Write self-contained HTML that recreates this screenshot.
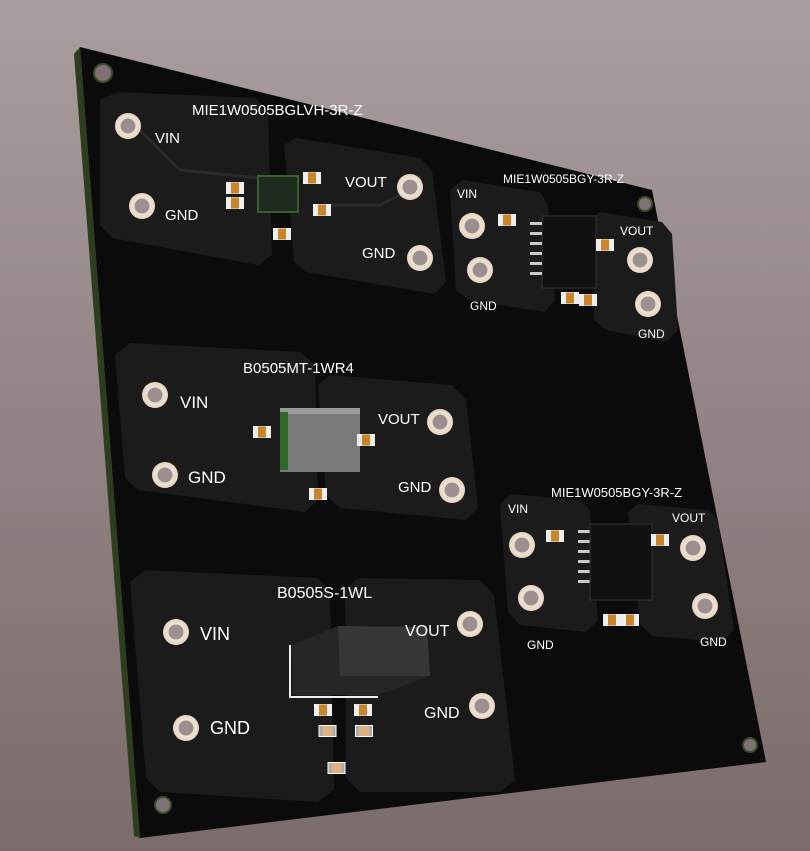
<!DOCTYPE html>
<html><head><meta charset="utf-8"><style>
html,body{margin:0;padding:0;width:810px;height:851px;overflow:hidden}
svg{display:block}
text{font-family:"Liberation Sans",sans-serif;fill:#fff}
</style></head><body>
<svg width="810" height="851" viewBox="0 0 810 851" xmlns="http://www.w3.org/2000/svg">
<defs>
<linearGradient id="bg" x1="0" y1="0" x2="0" y2="1">
<stop offset="0" stop-color="#a99d9e"/><stop offset="1" stop-color="#7b6b6b"/></linearGradient>
<radialGradient id="hole"><stop offset="0.55" stop-color="#9c8f90"/><stop offset="0.6" stop-color="#efe2d2"/><stop offset="1" stop-color="#e6d6c4"/></radialGradient>
<g id="h"><circle r="13" fill="url(#hole)"/></g>
<g id="cap"><rect x="-9" y="-6" width="18" height="12" fill="#d9b98a"/><rect x="-9" y="-6" width="5" height="12" fill="#eee"/><rect x="4" y="-6" width="5" height="12" fill="#eee"/><rect x="-4" y="-5" width="8" height="10" fill="#c8852a"/></g>
<g id="capb"><rect x="-18" y="-12" width="36" height="24" fill="#fff"/><rect x="-16" y="-10" width="32" height="20" fill="#aaa"/><rect x="-10" y="-10" width="20" height="20" fill="#ddb383"/></g>
</defs>
<rect width="810" height="851" fill="url(#bg)"/>
<polygon points="74,54 80,47 140,838 134,836" fill="#2c3e1e"/>
<polygon points="80,47 652,190 766,762 140,838" fill="#0b0b0b"/>
<polygon points="100,100 118,92 255,98 268,110 272,255 258,265 112,238 100,225" fill="#1b1b1b"/>
<polygon points="284,145 296,138 420,158 432,170 446,282 434,294 306,272 294,262" fill="#1b1b1b"/>
<polygon points="450,190 462,180 540,192 548,205 555,300 545,312 468,300 456,290" fill="#1b1b1b"/>
<polygon points="590,220 600,212 662,222 672,234 678,330 666,342 606,330 594,320" fill="#1b1b1b"/>
<polygon points="115,355 130,343 300,352 315,365 318,500 305,512 138,490 125,478" fill="#1b1b1b"/>
<polygon points="318,385 330,375 452,385 466,400 478,508 466,520 340,508 326,495" fill="#1b1b1b"/>
<polygon points="500,505 510,494 580,500 590,510 598,620 586,632 520,625 508,612" fill="#1b1b1b"/>
<polygon points="628,512 638,504 708,510 718,520 734,630 722,642 652,636 640,624" fill="#1b1b1b"/>
<polygon points="130,582 145,570 318,578 330,592 334,790 318,802 160,792 146,778" fill="#1b1b1b"/>
<polygon points="345,590 358,578 480,580 494,595 515,780 500,792 360,792 346,778" fill="#1b1b1b"/>
<polyline points="140,130 180,170 260,178" fill="none" stroke="#2a2a2a" stroke-width="3"/>
<polyline points="330,205 380,205 410,190" fill="none" stroke="#2a2a2a" stroke-width="3"/>
<use href="#h" x="128" y="126"/><use href="#h" x="142" y="206"/>
<use href="#h" x="410" y="187"/><use href="#h" x="420" y="258"/>
<use href="#h" x="472" y="226"/><use href="#h" x="480" y="270"/>
<use href="#h" x="640" y="260"/><use href="#h" x="648" y="304"/>
<use href="#h" x="155" y="395"/><use href="#h" x="165" y="475"/>
<use href="#h" x="440" y="422"/><use href="#h" x="452" y="490"/>
<use href="#h" x="522" y="545"/><use href="#h" x="531" y="598"/>
<use href="#h" x="693" y="548"/><use href="#h" x="705" y="606"/>
<use href="#h" x="176" y="632"/><use href="#h" x="186" y="728"/>
<use href="#h" x="470" y="624"/><use href="#h" x="482" y="706"/>
<circle cx="103" cy="73" r="9" fill="#7e7272" stroke="#3b4a2c" stroke-width="2"/>
<circle cx="645" cy="204" r="7" fill="#7e7272" stroke="#3b4a2c" stroke-width="2"/>
<circle cx="750" cy="745" r="7" fill="#7e7272" stroke="#3b4a2c" stroke-width="2"/>
<circle cx="163" cy="805" r="8" fill="#7e7272" stroke="#3b4a2c" stroke-width="2"/>
<rect x="258" y="176" width="40" height="36" fill="#1e2a1e" stroke="#3a6030" stroke-width="2"/>
<rect x="542" y="216" width="54" height="72" fill="#111" stroke="#333"/>
<g fill="#ccc"><rect x="530" y="222" width="12" height="3"/><rect x="530" y="232" width="12" height="3"/><rect x="530" y="242" width="12" height="3"/><rect x="530" y="252" width="12" height="3"/><rect x="530" y="262" width="12" height="3"/><rect x="530" y="272" width="12" height="3"/>
<rect x="578" y="530" width="12" height="3"/><rect x="578" y="540" width="12" height="3"/><rect x="578" y="550" width="12" height="3"/><rect x="578" y="560" width="12" height="3"/><rect x="578" y="570" width="12" height="3"/><rect x="578" y="580" width="12" height="3"/></g>
<rect x="590" y="524" width="62" height="76" fill="#111" stroke="#333"/>
<rect x="280" y="408" width="80" height="64" fill="#7a7a7a"/>
<rect x="280" y="408" width="80" height="6" fill="#9a9a9a"/>
<rect x="280" y="412" width="8" height="58" fill="#2f6a2a"/>
<polyline points="290,645 290,697 378,697" fill="none" stroke="#eee" stroke-width="2"/>
<polygon points="292,645 338,626 427,627 430,676 378,695 293,695" fill="#262626"/>
<polygon points="338,626 427,627 430,676 340,676" fill="#363636"/>
<use href="#cap" x="235" y="188"/><use href="#cap" x="235" y="203"/><use href="#cap" x="322" y="210"/><use href="#cap" x="282" y="234"/><use href="#cap" x="312" y="178"/>
<use href="#cap" x="507" y="220"/><use href="#cap" x="605" y="245"/><use href="#cap" x="570" y="298"/><use href="#cap" x="588" y="300"/>
<use href="#cap" x="262" y="432"/><use href="#cap" x="366" y="440"/><use href="#cap" x="318" y="494"/>
<use href="#cap" x="555" y="536"/><use href="#cap" x="660" y="540"/><use href="#cap" x="612" y="620"/><use href="#cap" x="630" y="620"/>
<use href="#cap" x="323" y="710"/><use href="#cap" x="363" y="710"/>
<g transform="translate(0,0) scale(0.5)"><use href="#capb" x="655" y="1462"/><use href="#capb" x="728" y="1462"/><use href="#capb" x="673" y="1536"/></g>
<text x="192" y="115" font-size="15">MIE1W0505BGLVH-3R-Z</text>
<text x="155" y="143" font-size="15">VIN</text><text x="165" y="220" font-size="15">GND</text>
<text x="345" y="187" font-size="15">VOUT</text><text x="362" y="258" font-size="15">GND</text>
<text x="503" y="183" font-size="12">MIE1W0505BGY-3R-Z</text>
<text x="457" y="198" font-size="12">VIN</text><text x="470" y="310" font-size="12">GND</text>
<text x="620" y="235" font-size="12">VOUT</text><text x="638" y="338" font-size="12">GND</text>
<text x="243" y="373" font-size="15">B0505MT-1WR4</text>
<text x="180" y="408" font-size="17">VIN</text><text x="188" y="483" font-size="17">GND</text>
<text x="378" y="424" font-size="15">VOUT</text><text x="398" y="492" font-size="15">GND</text>
<text x="551" y="497" font-size="13">MIE1W0505BGY-3R-Z</text>
<text x="508" y="513" font-size="12">VIN</text><text x="527" y="649" font-size="12">GND</text>
<text x="672" y="522" font-size="12">VOUT</text><text x="700" y="646" font-size="12">GND</text>
<text x="277" y="598" font-size="16">B0505S-1WL</text>
<text x="200" y="640" font-size="18">VIN</text><text x="210" y="734" font-size="18">GND</text>
<text x="405" y="636" font-size="16">VOUT</text><text x="424" y="718" font-size="16">GND</text>
</svg>
</body></html>
